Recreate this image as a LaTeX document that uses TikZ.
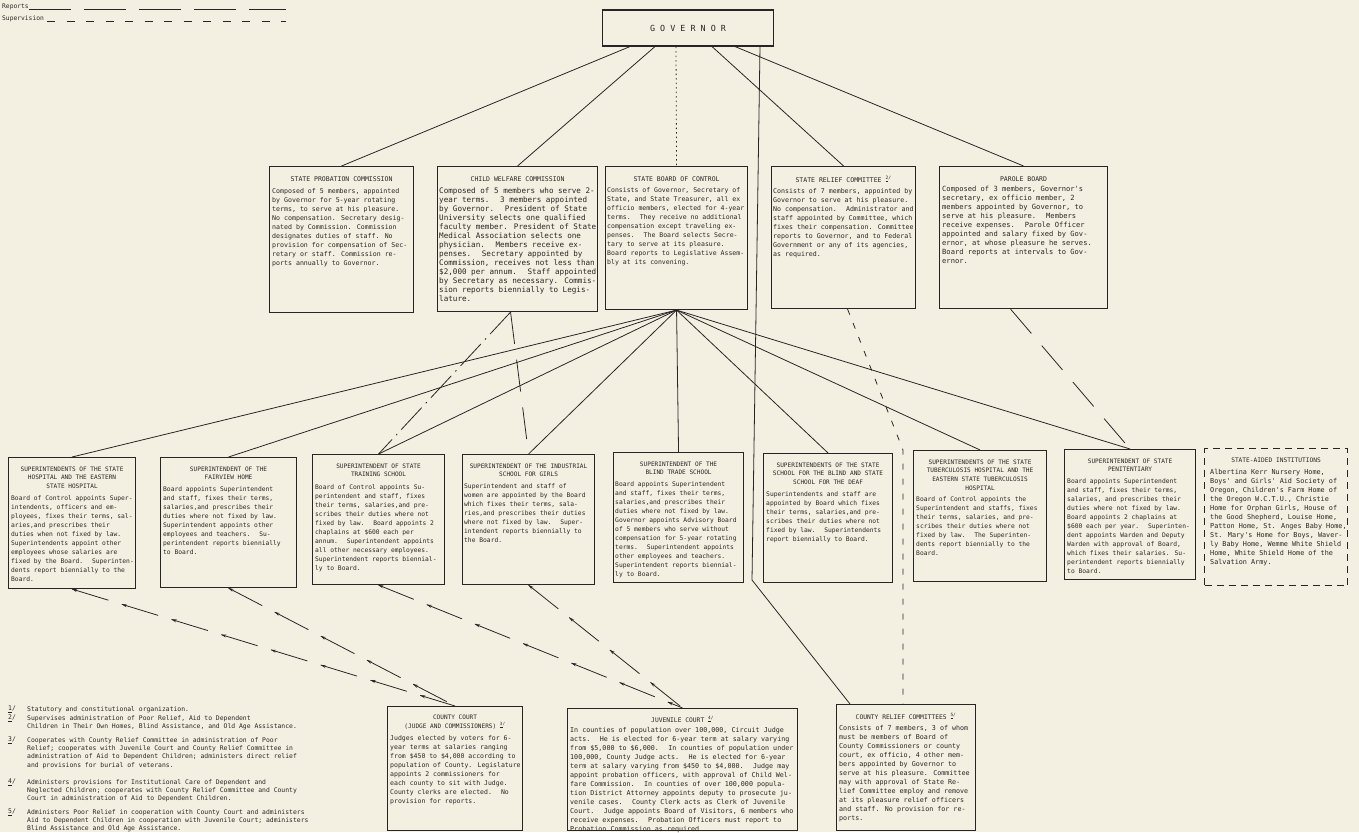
\documentclass[tikz,border=0pt]{standalone}
\usepackage{fontspec}
\usepackage{tikz}
\usetikzlibrary{calc,arrows.meta,decorations.markings}
\newfontfamily\orgmono{DejaVu Sans Mono}
\definecolor{paper}{HTML}{F4F0E1}
\definecolor{ink}{HTML}{262626}
\newcommand{\fnm}[1]{\textsuperscript{\underline{#1}/}}
\tikzset{
  orgbox/.style  ={draw=ink, line width=1.1pt, inner sep=0pt, anchor=north west},
  govbox/.style  ={draw=ink, line width=1.1pt, minimum width=171pt, minimum height=36pt,
                   text=ink, font=\orgmono\fontsize{8.4}{10}\selectfont},
  aidbox/.style  ={orgbox, dash pattern=on 7pt off 5pt},
  ttl/.style     ={text=ink, inner sep=0pt, anchor=north, align=center,
                   font=\orgmono\fontsize{#1}{8.6}\selectfont},
  ttl/.default   =6.1,
  txt/.style     ={text=ink, inner sep=0pt, anchor=north west, align=left,
                   font=\orgmono\fontsize{#1}{9}\selectfont},
  txt/.default   =6.3,
  fnt/.style     ={text=ink, inner sep=0pt, anchor=north west, align=left,
                   font=\orgmono\fontsize{6.4}{8.3}\selectfont},
  legt/.style    ={text=ink, inner sep=0pt, anchor=base west,
                   font=\orgmono\fontsize{6.3}{8}\selectfont},
  cline/.style   ={draw=ink, line width=0.8pt},
  repline/.style ={cline, dash pattern=on 42pt off 13pt},
  supline/.style ={cline, dash pattern=on 8pt off 11.5pt},
  govdot/.style  ={cline, dash pattern=on 1.5pt off 3pt},
  shortdash/.style={cline, dash pattern=on 6pt off 9pt},
  longdash/.style={cline, dash pattern=on 32pt off 16pt},
  dashdot/.style ={cline, dash pattern=on 30pt off 6pt on 1.5pt off 6pt},
  commit/.style  ={cline, dash pattern=on 38pt off 14pt,
                   decoration={markings, mark=between positions 0 and 1 step 52pt
                     with {\arrowreversed{Stealth[length=5pt,width=3pt]}}},
                   postaction={decorate}},
}
\begin{document}
\begin{tikzpicture}[x=1pt, y=-1pt]
  \fill[paper] (0,0) rectangle (1359,832);
  \useasboundingbox (0,0) rectangle (1359,832);

  \node[legt] (lrep) at (2,9) {Reports};
  \node[legt] (lsup) at (2,21) {Supervision};
  \coordinate (lrepend) at (286,9);
  \coordinate (lsupend) at (286,21);
  \draw[repline] (lrep.base east) -- (lrepend);
  \draw[supline] ([xshift=3pt]lsup.base east) -- (lsupend);

  \node[govbox] (gov) at (688,28) {G O V E R N O R};

  % boards and commissions
  \node[orgbox, minimum width=144pt, minimum height=146pt] (staffpc) at (269,166) {};
  \node[ttl=6.5] (staffttl) at ([yshift=-10pt]staffpc.north) {STATE PROBATION COMMISSION};
  \node[txt=6.6] (stafftxt) at ($(staffpc.west |- staffttl.south)+(3,6.5)$) {Composed of 5 members, appointed\\by Governor for 5-year rotating\\terms, to serve at his pleasure.\\No compensation. Secretary desig-\\nated by Commission. Commission\\designates duties of staff. No\\provision for compensation of Sec-\\retary or staff. Commission re-\\ports annually to Governor.};

  \node[orgbox, minimum width=160pt, minimum height=145pt] (cwc) at (437,166) {};
  \node[ttl=6.5] (cwcttl) at ([yshift=-10pt]cwc.north) {CHILD WELFARE COMMISSION};
  \node[txt=7.6] (cwctxt) at ($(cwc.west |- cwcttl.south)+(2,6.5)$) {Composed of 5 members who serve 2-\\year terms.~ 3 members appointed\\by Governor.~ President of State\\University selects one qualified\\faculty member. President of State\\Medical Association selects one\\physician.~ Members receive ex-\\penses.~ Secretary appointed by\\Commission, receives not less than\\\$2,000 per annum.~ Staff appointed\\by Secretary as necessary. Commis-\\sion reports biennially to Legis-\\lature.};

  \node[orgbox, minimum width=142pt, minimum height=143pt] (sbc) at (605,166) {};
  \node[ttl=6.5] (sbcttl) at ([yshift=-10pt]sbc.north) {STATE BOARD OF CONTROL};
  \node[txt=6.5] (sbctxt) at ($(sbc.west |- sbcttl.south)+(2,6.5)$) {Consists of Governor, Secretary of\\State, and State Treasurer, all ex\\officio members, elected for 4-year\\terms.~ They receive no additional\\compensation except traveling ex-\\penses.~ The Board selects Secre-\\tary to serve at its pleasure.\\Board reports to Legislative Assem-\\bly at its convening.};

  \node[orgbox, minimum width=144pt, minimum height=142pt] (src) at (771,166) {};
  \node[ttl=6.5] (srcttl) at ([yshift=-10pt]src.north) {STATE RELIEF COMMITTEE \fnm{2}};
  \node[txt=6.6] (srctxt) at ($(src.west |- srcttl.south)+(2,5.5)$) {Consists of 7 members, appointed by\\Governor to serve at his pleasure.\\No compensation.~ Administrator and\\staff appointed by Committee, which\\fixes their compensation. Committee\\reports to Governor, and to Federal\\Government or any of its agencies,\\as required.};

  \node[orgbox, minimum width=168pt, minimum height=142pt] (parole) at (939,166) {};
  \node[ttl=6.5] (parolettl) at ([yshift=-10pt]parole.north) {PAROLE BOARD};
  \node[txt=7.1] (paroletxt) at ($(parole.west |- parolettl.south)+(3,5)$) {Composed of 3 members, Governor's\\secretary, ex officio member, 2\\members appointed by Governor, to\\serve at his pleasure.~ Members\\receive expenses.~ Parole Officer\\appointed and salary fixed by Gov-\\ernor, at whose pleasure he serves.\\Board reports at intervals to Gov-\\ernor.};

  % institutions
  \node[orgbox, minimum width=127pt, minimum height=131pt] (hosp) at (8,457) {};
  \node[ttl] (hospttl) at ([yshift=-9.5pt]hosp.north) {SUPERINTENDENTS OF THE STATE\\HOSPITAL AND THE EASTERN\\STATE HOSPITAL};
  \node[txt] (hosptxt) at ($(hosp.west |- hospttl.south)+(3,6.5)$) {Board of Control appoints Super-\\intendents, officers and em-\\ployees, fixes their terms, sal-\\aries,and prescribes their\\duties when not fixed by law.\\Superintendents appoint other\\employees whose salaries are\\fixed by the Board.~ Superinten-\\dents report biennially to the\\Board.};

  \node[orgbox, minimum width=136pt, minimum height=130pt] (fairview) at (160,457) {};
  \node[ttl] (fairviewttl) at ([yshift=-9.5pt]fairview.north) {SUPERINTENDENT OF THE\\FAIRVIEW HOME};
  \node[txt] (fairviewtxt) at ($(fairview.west |- fairviewttl.south)+(3,6.5)$) {Board appoints Superintendent\\and staff, fixes their terms,\\salaries,and prescribes their\\duties where not fixed by law.\\Superintendent appoints other\\employees and teachers.~ Su-\\perintendent reports biennially\\to Board.};

  \node[orgbox, minimum width=132pt, minimum height=130pt] (training) at (312,454) {};
  \node[ttl] (trainingttl) at ([yshift=-9.5pt]training.north) {SUPERINTENDENT OF STATE\\TRAINING SCHOOL};
  \node[txt] (trainingtxt) at ($(training.west |- trainingttl.south)+(3,7.5)$) {Board of Control appoints Su-\\perintendent and staff, fixes\\their terms, salaries,and pre-\\scribes their duties where not\\fixed by law.~ Board appoints 2\\chaplains at \$600 each per\\annum.~ Superintendent appoints\\all other necessary employees.\\Superintendent reports biennial-\\ly to Board.};

  \node[orgbox, minimum width=132pt, minimum height=130pt] (industrial) at (462,454) {};
  \node[ttl] (industrialttl) at ([yshift=-9.5pt]industrial.north) {SUPERINTENDENT OF THE INDUSTRIAL\\SCHOOL FOR GIRLS};
  \node[txt] (industrialtxt) at ($(industrial.west |- industrialttl.south)+(2,6.5)$) {Superintendent and staff of\\women are appointed by the Board\\which fixes their terms, sala-\\ries,and prescribes their duties\\where not fixed by law.~ Super-\\intendent reports biennially to\\the Board.};

  \node[orgbox, minimum width=130pt, minimum height=130pt] (blindtrade) at (613,452) {};
  \node[ttl] (blindtradettl) at ([yshift=-9.5pt]blindtrade.north) {SUPERINTENDENT OF THE\\BLIND TRADE SCHOOL};
  \node[txt] (blindtradetxt) at ($(blindtrade.west |- blindtradettl.south)+(2,6.5)$) {Board appoints Superintendent\\and staff, fixes their terms,\\salaries,and prescribes their\\duties where not fixed by law.\\Governor appoints Advisory Board\\of 5 members who serve without\\compensation for 5-year rotating\\terms.~ Superintendent appoints\\other employees and teachers.\\Superintendent reports biennial-\\ly to Board.};

  \node[orgbox, minimum width=129pt, minimum height=129pt] (blinddeaf) at (763,453) {};
  \node[ttl] (blinddeafttl) at ([yshift=-9.5pt]blinddeaf.north) {SUPERINTENDENTS OF THE STATE\\SCHOOL FOR THE BLIND AND STATE\\SCHOOL FOR THE DEAF};
  \node[txt] (blinddeaftxt) at ($(blinddeaf.west |- blinddeafttl.south)+(3,6.5)$) {Superintendents and staff are\\appointed by Board which fixes\\their terms, salaries,and pre-\\scribes their duties where not\\fixed by law.~ Superintendents\\report biennially to Board.};

  \node[orgbox, minimum width=133pt, minimum height=131pt] (tb) at (913,450) {};
  \node[ttl] (tbttl) at ([yshift=-9.5pt]tb.north) {SUPERINTENDENTS OF THE STATE\\TUBERCULOSIS HOSPITAL AND THE\\EASTERN STATE TUBERCULOSIS\\HOSPITAL};
  \node[txt] (tbtxt) at ($(tb.west |- tbttl.south)+(3,6)$) {Board of Control appoints the\\Superintendent and staffs, fixes\\their terms, salaries, and pre-\\scribes their duties where not\\fixed by law.~ The Superinten-\\dents report biennially to the\\Board.};

  \node[orgbox, minimum width=131pt, minimum height=130pt] (pen) at (1064,449) {};
  \node[ttl] (penttl) at ([yshift=-9.5pt]pen.north) {SUPERINTENDENT OF STATE\\PENITENTIARY};
  \node[txt] (pentxt) at ($(pen.west |- penttl.south)+(3,6.5)$) {Board appoints Superintendent\\and staff, fixes their terms,\\salaries, and prescribes their\\duties where not fixed by law.\\Board appoints 2 chaplains at\\\$600 each per year.~ Superinten-\\dent appoints Warden and Deputy\\Warden with approval of Board,\\which fixes their salaries. Su-\\perintendent reports biennially\\to Board.};

  \node[aidbox, minimum width=143pt, minimum height=137pt] (aided) at (1204,448) {};
  \node[ttl=6.2] (aidedttl) at ([yshift=-9.5pt]aided.north) {STATE-AIDED INSTITUTIONS};
  \node[txt=6.8] (aidedtxt) at ($(aided.west |- aidedttl.south)+(6,6.5)$) {Albertina Kerr Nursery Home,\\Boys' and Girls' Aid Society of\\Oregon, Children's Farm Home of\\the Oregon W.C.T.U., Christie\\Home for Orphan Girls, House of\\the Good Shepherd, Louise Home,\\Patton Home, St. Anges Baby Home,\\St. Mary's Home for Boys, Waver-\\ly Baby Home, Wemme White Shield\\Home, White Shield Home of the\\Salvation Army.};

  % county level
  \node[orgbox, minimum width=135pt, minimum height=124pt] (ccourt) at (387,706) {};
  \node[ttl] (ccourtttl) at ([yshift=-9pt]ccourt.north) {COUNTY COURT\\(JUDGE AND COMMISSIONERS) \fnm{3}};
  \node[txt=6.5] (ccourttxt) at ($(ccourt.west |- ccourtttl.south)+(3,5.5)$) {Judges elected by voters for 6-\\year terms at salaries ranging\\from \$450 to \$4,000 according to\\population of County. Legislature\\appoints 2 commissioners for\\each county to sit with Judge.\\County clerks are elected.~ No\\provision for reports.};

  \node[orgbox, minimum width=230pt, minimum height=122pt] (juvenile) at (567,708) {};
  \node[ttl=6.3] (juvenilettl) at ([yshift=-8pt]juvenile.north) {JUVENILE COURT \fnm{4}};
  \node[txt=6.7] (juveniletxt) at ($(juvenile.west |- juvenilettl.south)+(3,5)$) {In counties of population over 100,000, Circuit Judge\\acts.~ He is elected for 6-year term at salary varying\\from \$5,000 to \$6,000.~ In counties of population under\\100,000, County Judge acts.~ He is elected for 6-year\\term at salary varying from \$450 to \$4,000.~ Judge may\\appoint probation officers, with approval of Child Wel-\\fare Commission.~ In counties of over 100,000 popula-\\tion District Attorney appoints deputy to prosecute ju-\\venile cases.~ County Clerk acts as Clerk of Juvenile\\Court.~ Judge appoints Board of Visitors, 6 members who\\receive expenses.~ Probation Officers must report to\\Probation Commission as required.};

  \node[orgbox, minimum width=139pt, minimum height=126pt] (crc) at (836,704) {};
  \node[ttl=6.3] (crcttl) at ([yshift=-9pt]crc.north) {COUNTY RELIEF COMMITTEES \fnm{5}};
  \node[txt=6.7] (crctxt) at ($(crc.west |- crcttl.south)+(3,5.5)$) {Consists of 7 members, 3 of whom\\must be members of Board of\\County Commissioners or county\\court, ex officio, 4 other mem-\\bers appointed by Governor to\\serve at his pleasure. Committee\\may with approval of State Re-\\lief Committee employ and remove\\at its pleasure relief officers\\and staff. No provision for re-\\ports.};

  % connectors
  \draw[cline] ([xshift=-58pt]gov.south) -- (staffpc.north);
  \draw[cline] ([xshift=-33pt]gov.south) -- (cwc.north);
  \draw[govdot] ([xshift=-12pt]gov.south) -- (sbc.north);
  \draw[cline] ([xshift=24pt]gov.south) -- (src.north);
  \draw[cline] ([xshift=47pt]gov.south) -- (parole.north);
  \coordinate (govbend) at (752,580);
  \draw[cline] ([xshift=72pt]gov.south) -- (govbend) -- ([xshift=14pt]crc.north west);

  \foreach \inst in {hosp,fairview,training,industrial,blindtrade,blinddeaf,tb,pen}
    \draw[cline] (sbc.south) -- (\inst.north);

  \draw[dashdot] ([xshift=-7pt]cwc.south) -- (training.north);
  \draw[longdash] ([xshift=-7pt]cwc.south) -- (industrial.north);
  \coordinate (reldrop) at (903,450);
  \draw[shortdash] ([xshift=4pt]src.south) -- (reldrop) -- (reldrop |- crc.north);
  \draw[longdash] ([xshift=-13pt]parole.south) -- (pen.north);

  \foreach \inst/\court in {hosp/ccourt,fairview/ccourt,training/juvenile,industrial/juvenile}
    \draw[commit] (\inst.south) -- (\court.north);

  % footnotes
  \node[fnt] (fn1n) at (8,706) {\underline{1}/};
  \node[fnt] (fn1t) at (27,706) {Statutory and constitutional organization.};
  \node[fnt] (fn2n) at (8,715) {\underline{2}/};
  \node[fnt] (fn2t) at (27,715) {Supervises administration of Poor Relief, Aid to Dependent\\Children in Their Own Homes, Blind Assistance, and Old Age Assistance.};
  \node[fnt] (fn3n) at (8,737) {\underline{3}/};
  \node[fnt] (fn3t) at (27,737) {Cooperates with County Relief Committee in administration of Poor\\Relief; cooperates with Juvenile Court and County Relief Committee in\\administration of Aid to Dependent Children; administers direct relief\\and provisions for burial of veterans.};
  \node[fnt] (fn4n) at (8,779) {\underline{4}/};
  \node[fnt] (fn4t) at (27,779) {Administers provisions for Institutional Care of Dependent and\\Neglected Children; cooperates with County Relief Committee and County\\Court in administration of Aid to Dependent Children.};
  \node[fnt] (fn5n) at (8,809) {\underline{5}/};
  \node[fnt] (fn5t) at (27,809) {Administers Poor Relief in cooperation with County Court and administers\\Aid to Dependent Children in cooperation with Juvenile Court; administers\\Blind Assistance and Old Age Assistance.};
\end{tikzpicture}
\end{document}
